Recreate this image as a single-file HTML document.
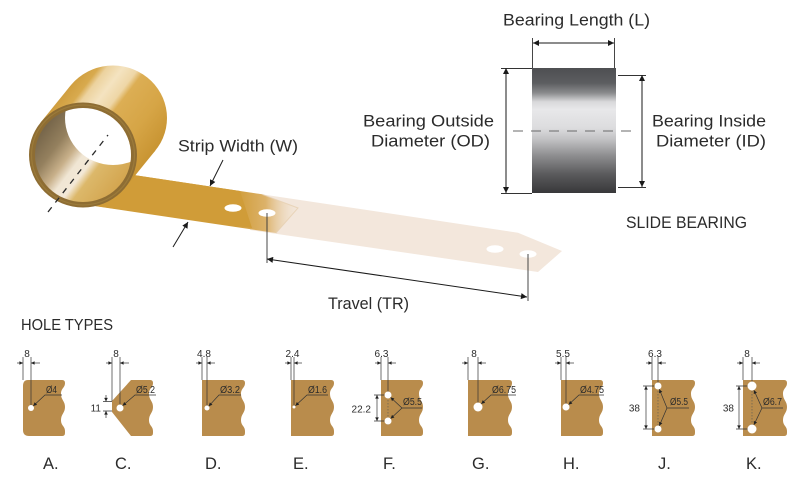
<!DOCTYPE html>
<html><head><meta charset="utf-8"><style>
html,body{margin:0;padding:0;background:#fff;}
svg{display:block;}
text{font-family:"Liberation Sans",sans-serif;fill:#2b2b2b;}
</style></head><body>
<svg width="800" height="481" viewBox="0 0 800 481" xmlns="http://www.w3.org/2000/svg">
<defs>
 <marker id="s" viewBox="0 0 10 10" refX="10" refY="5" markerUnits="userSpaceOnUse" markerWidth="4.5" markerHeight="3.6" orient="auto-start-reverse"><path d="M0,0L10,5L0,10Z" fill="#222"/></marker>
 <marker id="b" viewBox="0 0 10 10" refX="10" refY="5" markerUnits="userSpaceOnUse" markerWidth="8" markerHeight="6" orient="auto-start-reverse"><path d="M0,0L10,5L0,10Z" fill="#1a1a1a"/></marker>
 <linearGradient id="cyl" gradientUnits="userSpaceOnUse" x1="40.6" y1="122.5" x2="125.4" y2="187.5">
  <stop offset="0" stop-color="#cf9d3e"/>
  <stop offset="0.12" stop-color="#d8aa4e"/>
  <stop offset="0.18" stop-color="#ecd29e"/>
  <stop offset="0.3" stop-color="#f4e3c0"/>
  <stop offset="0.42" stop-color="#eed6a6"/>
  <stop offset="0.48" stop-color="#dcae54"/>
  <stop offset="0.75" stop-color="#d6a546"/>
  <stop offset="1" stop-color="#c99533"/>
 </linearGradient>
 <linearGradient id="inner" gradientUnits="userSpaceOnUse" x1="40.6" y1="122.5" x2="125.4" y2="187.5">
  <stop offset="0" stop-color="#6e5e44"/>
  <stop offset="0.25" stop-color="#94805e"/>
  <stop offset="0.4" stop-color="#c8b08a"/>
  <stop offset="0.5" stop-color="#f0e6d4"/>
  <stop offset="0.6" stop-color="#f3e8d6"/>
  <stop offset="0.68" stop-color="#dcb86a"/>
  <stop offset="1" stop-color="#d2a24a"/>
 </linearGradient>
 <clipPath id="ic"><ellipse cx="83" cy="155" rx="48" ry="47"/></clipPath>
 <linearGradient id="gs" gradientUnits="userSpaceOnUse" x1="236" y1="0" x2="302" y2="0">
  <stop offset="0" stop-color="#d09c38"/>
  <stop offset="0.45" stop-color="#dcb26a"/>
  <stop offset="1" stop-color="#f3e7dc" stop-opacity="0"/>
 </linearGradient>
 <linearGradient id="brg" x1="0" y1="0" x2="0" y2="1">
  <stop offset="0" stop-color="#4e4f52"/>
  <stop offset="0.12" stop-color="#5c5d60"/>
  <stop offset="0.2" stop-color="#8a8b8d"/>
  <stop offset="0.27" stop-color="#d8d8da"/>
  <stop offset="0.33" stop-color="#e8e8ea"/>
  <stop offset="0.48" stop-color="#dcdcde"/>
  <stop offset="0.57" stop-color="#c2c2c4"/>
  <stop offset="0.7" stop-color="#8e8e90"/>
  <stop offset="0.85" stop-color="#5a5a5c"/>
  <stop offset="1" stop-color="#38383a"/>
 </linearGradient>
</defs>

<!-- ===== Strip (transparent part) ===== -->
<path d="M250,192.5 L518,232.7 L562,251 L538,272 L250,230 Z" fill="#f3e7dc"/>
<ellipse cx="495" cy="249" rx="8.5" ry="3.8" fill="#fff"/>
<ellipse cx="528" cy="254" rx="8.5" ry="3.8" fill="#fff"/>

<!-- golden strip -->
<path d="M80,167 L262,194.3 L298,208 L276,233 L80,203.9 Z" fill="url(#gs)"/>
<path d="M80,167 L240,191 L252,228 L80,203.9 Z" fill="#d09c38"/>
<path d="M262,194.3 L298,208 L276,233" fill="none" stroke="#e6cfb0" stroke-width="1" opacity="0.8"/>
<ellipse cx="233" cy="208" rx="8.5" ry="3.8" fill="#fff"/>
<ellipse cx="267" cy="213" rx="8.5" ry="3.8" fill="#fff"/>

<!-- ===== Roll ===== -->
<ellipse cx="113" cy="118" rx="54" ry="52.5" fill="url(#cyl)"/>
<path d="M40.6,122.5 L70.6,85.5 L155.4,150.5 L125.4,187.5 Z" fill="url(#cyl)"/>
<ellipse cx="83" cy="155" rx="54" ry="52.5" fill="#8e6d33"/>
<ellipse cx="83" cy="155" rx="51.5" ry="50" fill="none" stroke="#a4843f" stroke-width="1.2" opacity="0.6"/>
<ellipse cx="83" cy="155" rx="48" ry="47" fill="url(#inner)"/>
<ellipse cx="113" cy="118" rx="48" ry="47" fill="#fff" clip-path="url(#ic)"/>
<line x1="48" y1="212" x2="108" y2="135" stroke="#2a2a2a" stroke-width="1.3" stroke-dasharray="6 6"/>

<!-- Strip width -->
<text x="178" y="151.5" font-size="17" textLength="120" lengthAdjust="spacingAndGlyphs">Strip Width (W)</text>
<line x1="223" y1="160" x2="210" y2="186" stroke="#1a1a1a" stroke-width="1" marker-end="url(#b)"/>
<line x1="173" y1="247" x2="188" y2="222" stroke="#1a1a1a" stroke-width="1" marker-end="url(#b)"/>

<!-- Travel -->
<line x1="267" y1="213" x2="267" y2="263" stroke="#333" stroke-width="0.9"/>
<line x1="528" y1="254" x2="528" y2="301" stroke="#333" stroke-width="0.9"/>
<line x1="267" y1="259" x2="527" y2="297" stroke="#1a1a1a" stroke-width="1" marker-start="url(#b)" marker-end="url(#b)"/>
<text x="328" y="309" font-size="17" textLength="81" lengthAdjust="spacingAndGlyphs">Travel (TR)</text>

<!-- ===== Bearing ===== -->
<text x="503" y="25.7" font-size="17" textLength="147" lengthAdjust="spacingAndGlyphs">Bearing Length (L)</text>
<path d="M532.5,38V68M614.5,38V68" stroke="#333" stroke-width="0.9"/>
<line x1="533" y1="43" x2="614" y2="43" stroke="#1a1a1a" stroke-width="1" marker-start="url(#b)" marker-end="url(#b)"/>
<rect x="532" y="68" width="84" height="125" fill="url(#brg)"/>
<path d="M501,68.5H532M501,193.5H532M618,75.5H646M618,187.5H646" stroke="#333" stroke-width="0.9"/>
<line x1="506" y1="68" x2="506" y2="193" stroke="#1a1a1a" stroke-width="1" marker-start="url(#b)" marker-end="url(#b)"/>
<line x1="642" y1="75" x2="642" y2="187" stroke="#1a1a1a" stroke-width="1" marker-start="url(#b)" marker-end="url(#b)"/>
<line x1="513" y1="131" x2="636" y2="131" stroke="#6a6a6a" stroke-width="1" stroke-dasharray="10 8"/>
<text x="363" y="126.5" font-size="17" textLength="131" lengthAdjust="spacingAndGlyphs">Bearing Outside</text>
<text x="371" y="146.5" font-size="17" textLength="119" lengthAdjust="spacingAndGlyphs">Diameter (OD)</text>
<text x="652" y="126.5" font-size="17" textLength="114" lengthAdjust="spacingAndGlyphs">Bearing Inside</text>
<text x="656" y="146.5" font-size="17" textLength="110" lengthAdjust="spacingAndGlyphs">Diameter (ID)</text>
<text x="626" y="228" font-size="17" textLength="121" lengthAdjust="spacingAndGlyphs">SLIDE BEARING</text>

<!-- ===== Hole types ===== -->
<text x="21" y="330" font-size="16" textLength="92" lengthAdjust="spacingAndGlyphs">HOLE TYPES</text>

<g stroke-linecap="butt">
<!-- A -->
<g transform="translate(23,0)">
 <path d="M5,380H39Q42,380 42,383C42,388 38,388 38,394C38,400 42,401 42,407C42,413 38,414 38,420C38,426 42,426 42,431V433Q42,436 39,436H6Q0,436 0,430V386Q0,380 5,380Z" fill="#b98c4c"/>
 <path d="M0,357V380M8,357V408" stroke="#333" stroke-width="0.7" fill="none"/>
 <circle cx="8" cy="408" r="3" fill="#fff"/>
 <path d="M-6,363H0" stroke="#333" stroke-width="0.7" marker-end="url(#s)"/>
 <path d="M17,363H8" stroke="#333" stroke-width="0.7" marker-end="url(#s)"/>
 <text x="4" y="357" font-size="10" text-anchor="middle">8</text>
 <path d="M39,395H22L10.2,406" fill="none" stroke="#333" stroke-width="0.7" marker-end="url(#s)"/>
 <text x="23" y="393" font-size="10" textLength="11" lengthAdjust="spacingAndGlyphs">Ø4</text>
 <text x="20" y="469" font-size="16.5">A.</text>
</g>
<!-- C -->
<g transform="translate(112,0)">
 <path d="M19,380H38Q41,380 41,383C41,388 37,388 37,394C37,400 41,401 41,407C41,413 37,414 37,420C37,426 41,426 41,431V433Q41,436 38,436H19L0,412V401Z" fill="#b98c4c"/>
 <path d="M0,357V401M8,357V408M-9,401.5H0M-9,411H0" stroke="#333" stroke-width="0.7" fill="none"/>
 <circle cx="8" cy="408" r="3.5" fill="#fff"/>
 <path d="M-6,363H0" stroke="#333" stroke-width="0.7" marker-end="url(#s)"/>
 <path d="M17,363H8" stroke="#333" stroke-width="0.7" marker-end="url(#s)"/>
 <text x="4" y="357" font-size="10" text-anchor="middle">8</text>
 <path d="M-6,395V401.5" stroke="#333" stroke-width="0.7" marker-end="url(#s)"/>
 <path d="M-6,418V411" stroke="#333" stroke-width="0.7" marker-end="url(#s)"/>
 <text x="-11" y="411.5" font-size="10" text-anchor="end">11</text>
 <path d="M44,395H23L10.6,405.7" fill="none" stroke="#333" stroke-width="0.7" marker-end="url(#s)"/>
 <text x="24" y="393" font-size="10" textLength="19" lengthAdjust="spacingAndGlyphs">Ø5.2</text>
 <text x="3" y="469" font-size="16.5">C.</text>
</g>
<!-- D -->
<g transform="translate(202,0)">
 <path d="M0,380H40Q43,380 43,383C43,388 39,388 39,394C39,400 43,401 43,407C43,413 39,414 39,420C39,426 43,426 43,431V433Q43,436 40,436H0Z" fill="#b98c4c"/>
 <path d="M0,357V380M5,357V408" stroke="#333" stroke-width="0.7" fill="none"/>
 <circle cx="5" cy="408" r="2.5" fill="#fff"/>
 <path d="M-6,363H0" stroke="#333" stroke-width="0.7" marker-end="url(#s)"/>
 <path d="M13,363H5" stroke="#333" stroke-width="0.7" marker-end="url(#s)"/>
 <text x="2" y="357" font-size="10" text-anchor="middle">4.8</text>
 <path d="M39,395H17L6.7,406.2" fill="none" stroke="#333" stroke-width="0.7" marker-end="url(#s)"/>
 <text x="18" y="393" font-size="10" textLength="20" lengthAdjust="spacingAndGlyphs">Ø3.2</text>
 <text x="3" y="469" font-size="16.5">D.</text>
</g>
<!-- E -->
<g transform="translate(291,0)">
 <path d="M0,380H40Q43,380 43,383C43,388 39,388 39,394C39,400 43,401 43,407C43,413 39,414 39,420C39,426 43,426 43,431V433Q43,436 40,436H0Z" fill="#b98c4c"/>
 <path d="M0,357V380M3,357V407" stroke="#333" stroke-width="0.7" fill="none"/>
 <circle cx="3" cy="407" r="1.5" fill="#fff"/>
 <path d="M-6,363H0" stroke="#333" stroke-width="0.7" marker-end="url(#s)"/>
 <path d="M11,363H3" stroke="#333" stroke-width="0.7" marker-end="url(#s)"/>
 <text x="1.5" y="357" font-size="10" text-anchor="middle">2.4</text>
 <path d="M37,395H16L4.4,405.8" fill="none" stroke="#333" stroke-width="0.7" marker-end="url(#s)"/>
 <text x="17" y="393" font-size="10" textLength="19" lengthAdjust="spacingAndGlyphs">Ø1.6</text>
 <text x="2" y="469" font-size="16.5">E.</text>
</g>
<!-- F -->
<g transform="translate(381,0)">
 <path d="M0,380H39Q42,380 42,383C42,388 38,388 38,394C38,400 42,401 42,407C42,413 38,414 38,420C38,426 42,426 42,431V433Q42,436 39,436H0Z" fill="#b98c4c"/>
 <path d="M0,357V380M7,357V395M-7,395H7M-7,421H7" stroke="#333" stroke-width="0.7" fill="none"/>
 <path d="M7,391V425" stroke="#555" stroke-width="0.6" stroke-dasharray="1.5 1.5"/>
 <circle cx="7" cy="395" r="3.5" fill="#fff"/>
 <circle cx="7" cy="421" r="3.5" fill="#fff"/>
 <path d="M-6,363H0" stroke="#333" stroke-width="0.7" marker-end="url(#s)"/>
 <path d="M15,363H7" stroke="#333" stroke-width="0.7" marker-end="url(#s)"/>
 <text x="0.5" y="357" font-size="10" text-anchor="middle">6.3</text>
 <path d="M-4,395V421" stroke="#333" stroke-width="0.7" marker-start="url(#s)" marker-end="url(#s)"/>
 <text x="-10" y="412.5" font-size="10" text-anchor="end">22.2</text>
 <path d="M41,408H21L9.6,397.4" fill="none" stroke="#333" stroke-width="0.7" marker-end="url(#s)"/>
 <path d="M21,408L9.6,418.6" fill="none" stroke="#333" stroke-width="0.7" marker-end="url(#s)"/>
 <text x="22" y="405" font-size="10" textLength="19" lengthAdjust="spacingAndGlyphs">Ø5.5</text>
 <text x="2" y="469" font-size="16.5">F.</text>
</g>
<!-- G -->
<g transform="translate(468,0)">
 <path d="M0,380H41Q44,380 44,383C44,388 40,388 40,394C40,400 44,401 44,407C44,413 40,414 40,420C40,426 44,426 44,431V433Q44,436 41,436H0Z" fill="#b98c4c"/>
 <path d="M0,357V380M10,357V407" stroke="#333" stroke-width="0.7" fill="none"/>
 <circle cx="10" cy="407" r="4.5" fill="#fff"/>
 <path d="M-6,363H0" stroke="#333" stroke-width="0.7" marker-end="url(#s)"/>
 <path d="M18,363H10" stroke="#333" stroke-width="0.7" marker-end="url(#s)"/>
 <text x="6" y="357" font-size="10" text-anchor="middle">8</text>
 <path d="M48,395H23L13.3,403.9" fill="none" stroke="#333" stroke-width="0.7" marker-end="url(#s)"/>
 <text x="24" y="393" font-size="10" textLength="24" lengthAdjust="spacingAndGlyphs">Ø6.75</text>
 <text x="4" y="469" font-size="16.5">G.</text>
</g>
<!-- H -->
<g transform="translate(561,0)">
 <path d="M0,380H39Q42,380 42,383C42,388 38,388 38,394C38,400 42,401 42,407C42,413 38,414 38,420C38,426 42,426 42,431V433Q42,436 39,436H0Z" fill="#b98c4c"/>
 <path d="M0,357V380M5,357V407" stroke="#333" stroke-width="0.7" fill="none"/>
 <circle cx="5" cy="407" r="3.5" fill="#fff"/>
 <path d="M-6,363H0" stroke="#333" stroke-width="0.7" marker-end="url(#s)"/>
 <path d="M13,363H5" stroke="#333" stroke-width="0.7" marker-end="url(#s)"/>
 <text x="2" y="357" font-size="10" text-anchor="middle">5.5</text>
 <path d="M43,395H18L7.6,404.6" fill="none" stroke="#333" stroke-width="0.7" marker-end="url(#s)"/>
 <text x="19" y="393" font-size="10" textLength="24" lengthAdjust="spacingAndGlyphs">Ø4.75</text>
 <text x="2" y="469" font-size="16.5">H.</text>
</g>
<!-- J -->
<g transform="translate(652,0)">
 <path d="M0,380H40Q43,380 43,383C43,388 39,388 39,394C39,400 43,401 43,407C43,413 39,414 39,420C39,426 43,426 43,431V433Q43,436 40,436H0Z" fill="#b98c4c"/>
 <path d="M0,357V380M6,357V386M-9,386H6M-9,429H6" stroke="#333" stroke-width="0.7" fill="none"/>
 <path d="M6,382V433" stroke="#555" stroke-width="0.6" stroke-dasharray="1.5 1.5"/>
 <circle cx="6" cy="386" r="3.5" fill="#fff"/>
 <circle cx="6" cy="429" r="3.5" fill="#fff"/>
 <path d="M-6,363H0" stroke="#333" stroke-width="0.7" marker-end="url(#s)"/>
 <path d="M14,363H6" stroke="#333" stroke-width="0.7" marker-end="url(#s)"/>
 <text x="3" y="357" font-size="10" text-anchor="middle">6.3</text>
 <path d="M-6,386V429" stroke="#333" stroke-width="0.7" marker-start="url(#s)" marker-end="url(#s)"/>
 <text x="-12" y="411.5" font-size="10" text-anchor="end">38</text>
 <path d="M37,408H15L7.3,389.2" fill="none" stroke="#333" stroke-width="0.7" marker-end="url(#s)"/>
 <path d="M15,408L7.3,425.8" fill="none" stroke="#333" stroke-width="0.7" marker-end="url(#s)"/>
 <text x="18" y="405" font-size="10" textLength="18" lengthAdjust="spacingAndGlyphs">Ø5.5</text>
 <text x="6" y="469" font-size="16.5">J.</text>
</g>
<!-- K -->
<g transform="translate(743,0)">
 <path d="M0,380H41Q44,380 44,383C44,388 40,388 40,394C40,400 44,401 44,407C44,413 40,414 40,420C40,426 44,426 44,431V433Q44,436 41,436H0Z" fill="#b98c4c"/>
 <path d="M0,357V380M9,357V386M-7,386H9M-7,429H9" stroke="#333" stroke-width="0.7" fill="none"/>
 <path d="M9,382V433" stroke="#555" stroke-width="0.6" stroke-dasharray="1.5 1.5"/>
 <circle cx="9" cy="386" r="4.5" fill="#fff"/>
 <circle cx="9" cy="429" r="4.5" fill="#fff"/>
 <path d="M-6,363H0" stroke="#333" stroke-width="0.7" marker-end="url(#s)"/>
 <path d="M17,363H9" stroke="#333" stroke-width="0.7" marker-end="url(#s)"/>
 <text x="4" y="357" font-size="10" text-anchor="middle">8</text>
 <path d="M-4,386V429" stroke="#333" stroke-width="0.7" marker-start="url(#s)" marker-end="url(#s)"/>
 <text x="-9" y="411.5" font-size="10" text-anchor="end">38</text>
 <path d="M40,408H19L10.9,390.1" fill="none" stroke="#333" stroke-width="0.7" marker-end="url(#s)"/>
 <path d="M19,408L10.9,424.9" fill="none" stroke="#333" stroke-width="0.7" marker-end="url(#s)"/>
 <text x="20" y="405" font-size="10" textLength="19" lengthAdjust="spacingAndGlyphs">Ø6.7</text>
 <text x="3" y="469" font-size="16.5">K.</text>
</g>
</g>
</svg>
</body></html>
